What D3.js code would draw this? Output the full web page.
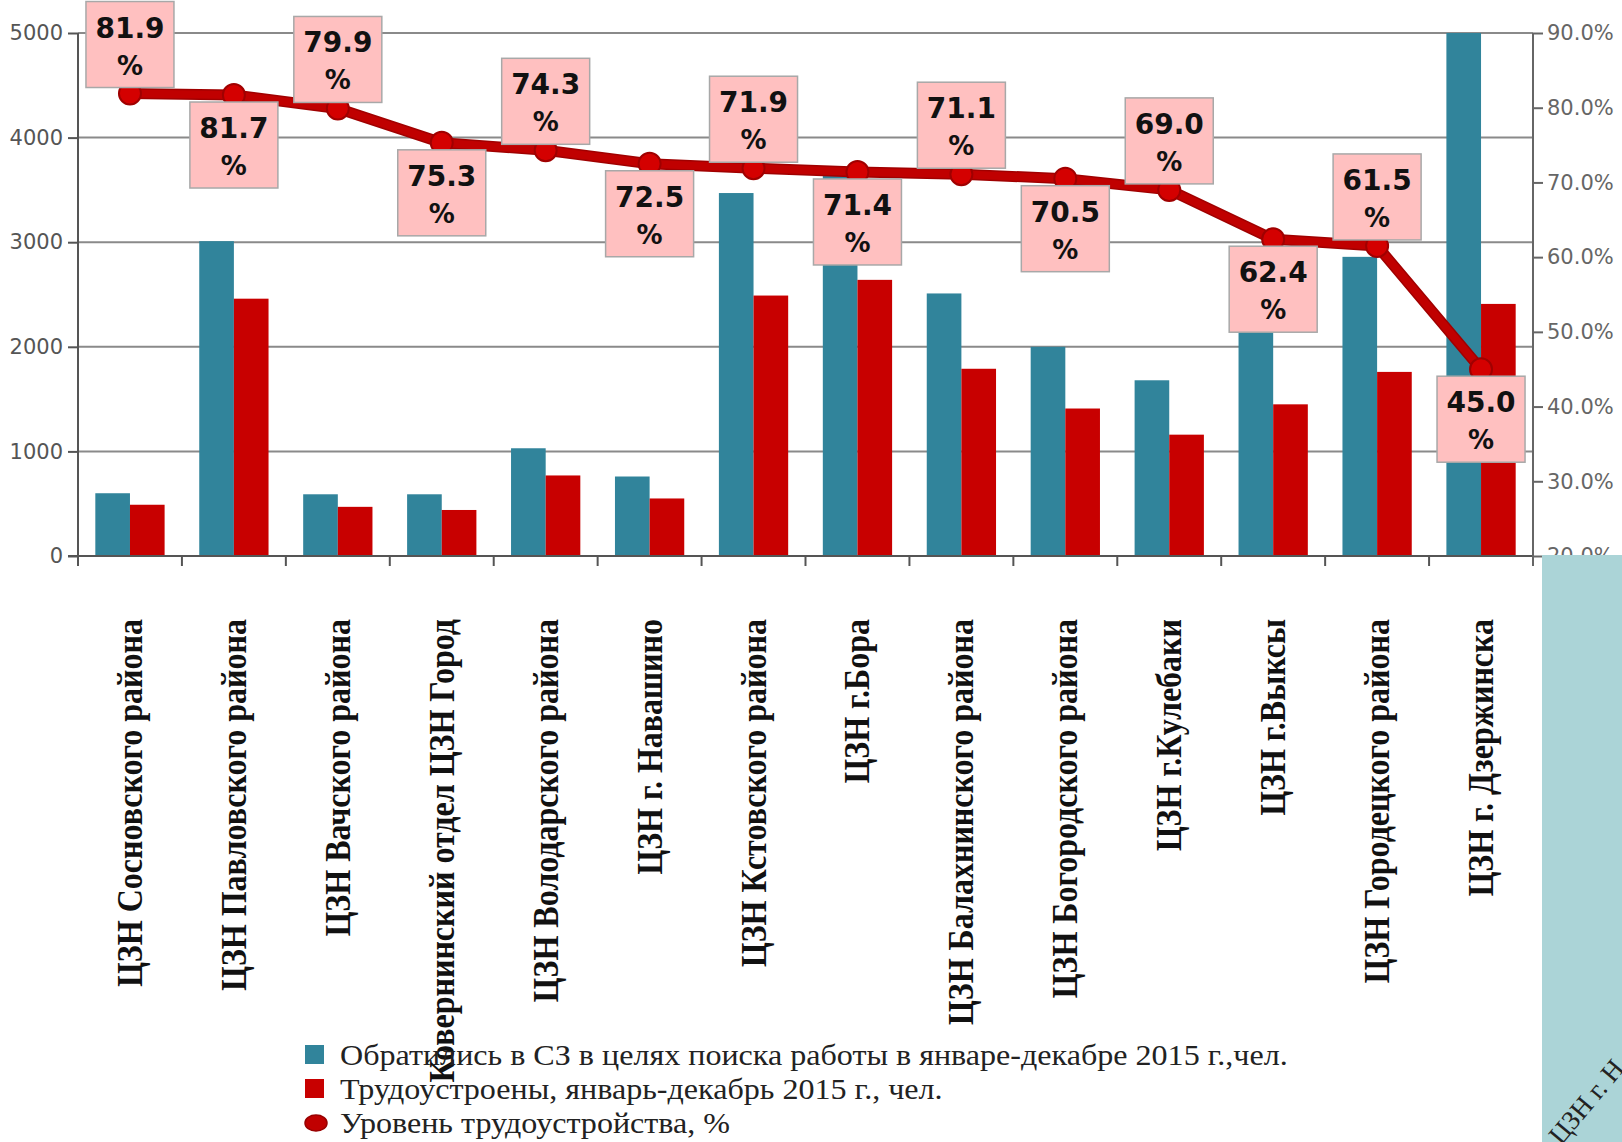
<!DOCTYPE html>
<html>
<head>
<meta charset="utf-8">
<script src="https://cdn.jsdelivr.net/npm/d3@7"></script>
<style>
  body { margin: 0; background: #fff; }
  svg { display: block; }
</style>
</head>
<body>
<div id="wrapper"></div>
<script>
const categories = [
  "ЦЗН Сосновского района",
  "ЦЗН Павловского района",
  "ЦЗН Вачского района",
  "Ковернинский отдел ЦЗН Город",
  "ЦЗН Володарского района",
  "ЦЗН г. Навашино",
  "ЦЗН Кстовского района",
  "ЦЗН г.Бора",
  "ЦЗН Балахнинского района",
  "ЦЗН Богородского района",
  "ЦЗН г.Кулебаки",
  "ЦЗН г.Выксы",
  "ЦЗН Городецкого района",
  "ЦЗН г. Дзержинска",
]
const applied = [600, 3010, 590, 590, 1030, 760, 3470, 3700, 2510, 2000, 1680, 2330, 2860, 5360]
const employed = [490, 2460, 470, 440, 770, 550, 2490, 2640, 1790, 1410, 1160, 1450, 1760, 2410]
const level = [81.9, 81.7, 79.9, 75.3, 74.3, 72.5, 71.9, 71.4, 71.1, 70.5, 69.0, 62.4, 61.5, 45.0]
const leftTicks = [0, 1000, 2000, 3000, 4000, 5000]
const rightTicks = [20, 30, 40, 50, 60, 70, 80, 90]
const legendLabels = [
  "Обратились в СЗ в целях поиска работы в январе-декабре 2015 г.,чел.",
  "Трудоустроены, январь-декабрь 2015 г., чел.",
  "Уровень трудоустройства, %",
]

const colors = { applied: "#31849b", employed: "#c80000", line: "#c00000" }

let dimensions = {
  width: 1622,
  height: 1142,
  margin: { top: 33, right: 89, bottom: 586, left: 78 },
}
dimensions.boundedWidth = dimensions.width - dimensions.margin.left - dimensions.margin.right
dimensions.boundedHeight = dimensions.height - dimensions.margin.top - dimensions.margin.bottom

const dataset = categories.map((c, i) => ({
  name: c, applied: applied[i], employed: employed[i], level: level[i],
}))

const wrapper = d3.select("#wrapper").append("svg")
  .attr("width", dimensions.width)
  .attr("height", dimensions.height)

wrapper.append("rect")
  .attr("width", dimensions.width).attr("height", dimensions.height).attr("fill", "#fff")

const bounds = wrapper.append("g")
  .attr("transform", `translate(${dimensions.margin.left},${dimensions.margin.top})`)

// scales
const xScale = d3.scaleBand()
  .domain(categories)
  .range([0, dimensions.boundedWidth])
const xInner = d3.scaleBand()
  .domain(["applied", "employed"])
  .range([0, xScale.bandwidth()])
  .paddingOuter(0.5)
const yScale = d3.scaleLinear()
  .domain([0, 5000])
  .range([dimensions.boundedHeight, 0])
const yRight = d3.scaleLinear()
  .domain([20, 90])
  .range([dimensions.boundedHeight, 0])

bounds.append("clipPath").attr("id", "plotClip")
  .append("rect")
  .attr("width", dimensions.boundedWidth)
  .attr("height", dimensions.boundedHeight)

// gridlines
bounds.append("g").selectAll("line")
  .data(leftTicks.filter(d => d > 0))
  .join("line")
  .attr("x1", 0).attr("x2", dimensions.boundedWidth)
  .attr("y1", d => yScale(d)).attr("y2", d => yScale(d))
  .attr("stroke", "#8a8a8a").attr("stroke-width", 2)

// bars
const groups = bounds.append("g").attr("clip-path", "url(#plotClip)")
  .selectAll("g").data(dataset).join("g")
  .attr("transform", d => `translate(${xScale(d.name)},0)`)

groups.selectAll("rect")
  .data(d => [{ key: "applied", v: d.applied }, { key: "employed", v: d.employed }])
  .join("rect")
  .attr("x", d => xInner(d.key))
  .attr("width", xInner.bandwidth())
  .attr("y", d => yScale(d.v))
  .attr("height", d => dimensions.boundedHeight - yScale(d.v))
  .attr("fill", d => colors[d.key])

// axes
const xAxis = bounds.append("g")
  .attr("transform", `translate(0,${dimensions.boundedHeight})`)
xAxis.append("line")
  .attr("x1", -10).attr("x2", dimensions.boundedWidth)
  .attr("stroke", "#555").attr("stroke-width", 2)
xAxis.selectAll(".tick")
  .data(d3.range(categories.length + 1))
  .join("line")
  .attr("x1", i => i * xScale.step()).attr("x2", i => i * xScale.step())
  .attr("y1", 0).attr("y2", 10)
  .attr("stroke", "#555").attr("stroke-width", 2)

xAxis.selectAll("text.cat")
  .data(dataset)
  .join("text")
  .attr("class", "cat")
  .attr("transform", d => `translate(${xScale(d.name) + xScale.bandwidth() / 2 + 12},63) rotate(-90) scale(0.915,1)`)
  .attr("text-anchor", "end")
  .style("font-family", "'Liberation Serif', serif")
  .style("font-weight", "bold")
  .style("font-size", "35px")
  .attr("fill", "#111")
  .text(d => d.name)

const yAxisGenerator = d3.axisLeft(yScale)
  .tickValues(leftTicks)
  .tickSize(10)
  .tickPadding(5)
  .tickFormat(d3.format("d"))
const yAxis = bounds.append("g").call(yAxisGenerator)
yAxis.select(".domain").attr("stroke", "#555").attr("stroke-width", 2)
  .attr("d", `M0,0V${dimensions.boundedHeight + 10}`)
yAxis.selectAll(".tick line").attr("stroke", "#555").attr("stroke-width", 2)
yAxis.selectAll(".tick text")
  .style("font-family", "'DejaVu Sans', sans-serif")
  .style("font-size", "21px")
  .attr("fill", "#555")

const yRightGenerator = d3.axisRight(yRight)
  .tickValues(rightTicks)
  .tickSize(10)
  .tickPadding(4)
  .tickFormat(d => d3.format(".1f")(d) + "%")
const yRightAxis = bounds.append("g")
  .attr("transform", `translate(${dimensions.boundedWidth},0)`)
  .call(yRightGenerator)
yRightAxis.select(".domain").attr("stroke", "#666").attr("stroke-width", 2)
  .attr("d", `M0,0V${dimensions.boundedHeight + 10}`)
yRightAxis.selectAll(".tick line").attr("stroke", "#666").attr("stroke-width", 2)
yRightAxis.selectAll(".tick text")
  .style("font-family", "'DejaVu Sans', sans-serif")
  .style("font-size", "21px")
  .attr("fill", "#666")

// line
const xCenter = d => xScale(d.name) + xScale.bandwidth() / 2
const lineGenerator = d3.line()
  .x(xCenter)
  .y(d => yRight(d.level))

bounds.append("path").datum(dataset)
  .attr("d", lineGenerator)
  .attr("fill", "none")
  .attr("stroke", "#a00000").attr("stroke-width", 11)
bounds.append("path").datum(dataset)
  .attr("d", lineGenerator)
  .attr("fill", "none")
  .attr("stroke", colors.line).attr("stroke-width", 8)

bounds.append("g").selectAll("circle")
  .data(dataset).join("circle")
  .attr("cx", xCenter)
  .attr("cy", d => yRight(d.level))
  .attr("r", 11)
  .attr("fill", "#d40000")
  .attr("stroke", "#a00000").attr("stroke-width", 2)

// data labels
const boxW = 88, boxH = 86
const labels = bounds.append("g").selectAll("g")
  .data(dataset).join("g")
  .attr("transform", (d, i) => {
    const cy = yRight(d.level)
    const top = i % 2 === 0 ? cy - 6 - boxH : cy + 7
    return `translate(${xCenter(d) - boxW / 2},${top})`
  })
labels.append("rect")
  .attr("width", boxW).attr("height", boxH)
  .attr("fill", "#ffc0c0")
  .attr("stroke", "#a8a8a8").attr("stroke-width", 1.5)
labels.append("text")
  .attr("x", boxW / 2).attr("y", 36)
  .attr("text-anchor", "middle")
  .style("font-family", "'DejaVu Sans', sans-serif")
  .style("font-weight", "bold")
  .style("font-size", "28px")
  .attr("fill", "#111")
  .text(d => d3.format(".1f")(d.level))
labels.append("text")
  .attr("x", boxW / 2).attr("y", 73)
  .attr("text-anchor", "middle")
  .style("font-family", "'DejaVu Sans', sans-serif")
  .style("font-weight", "bold")
  .style("font-size", "26px")
  .attr("fill", "#111")
  .text("%")

// legend
const legend = wrapper.append("g").attr("transform", "translate(305,1055)")
const legendRows = legend.selectAll("g")
  .data(legendLabels).join("g")
  .attr("transform", (d, i) => `translate(0,${i * 34})`)
legendRows.filter((d, i) => i < 2).append("rect")
  .attr("x", 0).attr("y", -10).attr("width", 19).attr("height", 19)
  .attr("fill", (d, i) => i === 0 ? colors.applied : colors.employed)
legendRows.filter((d, i) => i === 2).append("ellipse")
  .attr("cx", 11).attr("cy", 0).attr("rx", 11).attr("ry", 8)
  .attr("fill", "#c00000").attr("stroke", "#900").attr("stroke-width", 1.5)
legendRows.append("text")
  .attr("transform", "translate(35,10) scale(1.07,1)")
  .style("font-family", "'Liberation Serif', serif")
  .style("font-size", "30px")
  .attr("fill", "#222")
  .text(d => d)

// side panel
wrapper.append("clipPath").attr("id", "panelClip")
  .append("rect").attr("x", 1542).attr("y", 555).attr("width", 80).attr("height", 587)
const panel = wrapper.append("g").attr("clip-path", "url(#panelClip)")
panel.append("rect")
  .attr("x", 1542).attr("y", 555).attr("width", 80).attr("height", 587)
  .attr("fill", "#abd4d7")
panel.append("text")
  .attr("transform", "translate(1561,1146) rotate(-50)")
  .style("font-family", "'Liberation Serif', serif")
  .style("font-size", "27px")
  .attr("fill", "#222")
  .text("ЦЗН г. Н")
</script>
</body>
</html>
